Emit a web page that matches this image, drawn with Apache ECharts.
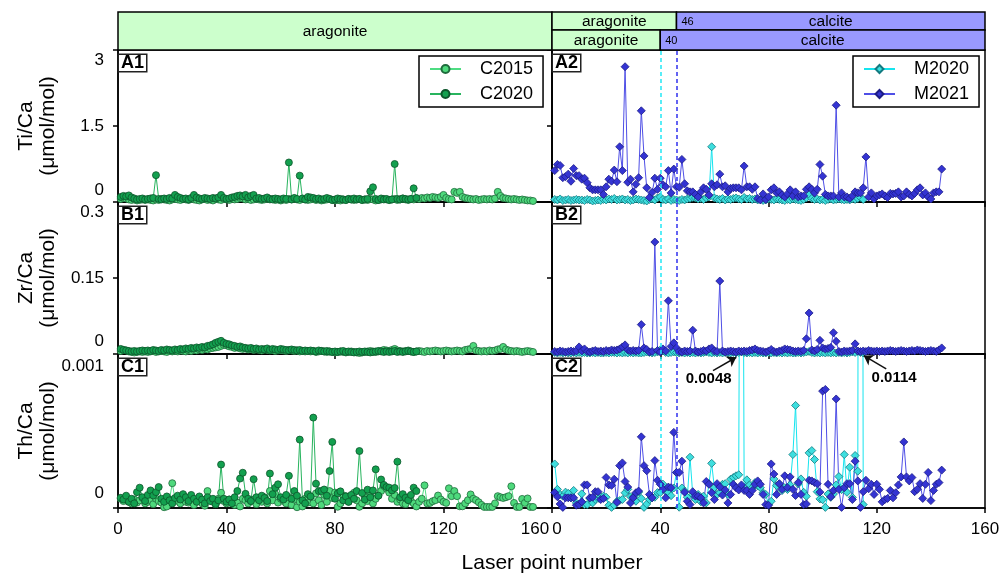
<!DOCTYPE html>
<html>
<head>
<meta charset="utf-8">
<script src="https://cdn.jsdelivr.net/npm/echarts@6/dist/echarts.min.js"></script>
<style>
  html, body { margin: 0; padding: 0; background: #fff; }
  #chart { width: 1001px; height: 576px; }
</style>
</head>
<body>
<div id="chart"></div>
<script>
// Element/Ca ratios (µmol/mol) along laser transects; point number = array position + 1.

// ---- Ti/Ca ----
const tiCa_C2015 = [
  .06,.08,.07,.05,.04,.05,.03,.04,.05,.04, .05,.04,.03,.05,.04,.06,.05,.04,.03,.05,
  .06,.05,.04,.06,.05,.04,.07,.05,.04,.03, .05,.06,.04,.05,.03,.06,.05,.04,.06,.05,
  .04,.07,.05,.06,.08,.07,.05,.06,.04,.05, .06,.05,.04,.05,.07,.05,.06,.04,.05,.03,
  .05,.04,.06,.05,.07,.05,.04,.06,.05,.04, .05,.06,.04,.05,.03,.04,.05,.06,.04,.03,
  .04,.03,.05,.04,.06,.05,.04,.05,.06,.04, .05,.04,.06,.05,.03,.04,.05,.06,.05,.04,
  .05,.06,.04,.05,.07,.05,.04,.06,.05,.07, .06,.08,.07,.09,.08,.10,.09,.08,.10,.14,
  .08,.06,.05,.20,.18,.20,.10,.08,.07,.06, .05,.06,.04,.05,.06,.05,.06,.05,.07,.20,
  .12,.08,.07,.06,.05,.06,.05,.04,.05,.04, .03,.03,.02
];
const tiCa_C2020 = [
  .10,.12,.11,.13,.09,.07,.05,.06,.07,.05, .06,.07,.08,.53,.06,.05,.07,.06,.08,.07,
  .14,.10,.08,.06,.07,.05,.08,.14,.09,.07, .06,.08,.07,.06,.08,.07,.09,.14,.08,.06,
  .07,.09,.10,.12,.13,.11,.14,.09,.12,.14, .07,.08,.06,.07,.09,.06,.05,.07,.06,.05,
  .07,.06,.78,.05,.08,.06,.52,.07,.05,.10, .09,.08,.06,.07,.05,.06,.08,.06,.04,.05,
  .07,.06,.05,.04,.06,.05,.07,.05,.06,.04, .05,.06,.21,.29,.06,.04,.07,.05,.06,.04,
  .05,.75,.06,.05,.07,.06,.05,.06,.27,.08
];
const tiCa_M2020 = [
  .05,.04,.06,.03,.04,.05,.03,.04,.05,.04, .04,.03,.05,.04,.02,.03,.04,.03,.05,.04,
  .06,.05,.07,.04,.05,.06,.04,.05,.03,.04, .06,.05,.04,.03,.02,.05,.06,.04,.08,.10,
  .05,.04,.06,.03,.05,.04,.03,.05,.04,.06, .07,.09,.08,.06,.07,.05,.08,.10,1.09,.08,
  .06,.05,.07,.04,.06,.05,.07,.08,.06,.05, .09,.06,.07,.05,.06,.04,.05,.03,.04,.06,
  .05,.04,.06,.05,.04,.03,.05,.04,.06,.05, .04,.03,.05,.08,.14,.07,.05,.06,.04,.05,
  .03,.05,.06,.04,.05,.06,.05,.04,.05,.04, .06,.05,.07,.09,.05
];
const tiCa_M2021 = [
  .62,.74,.72,.48,.50,.55,.41,.66,.52,.52, .45,.47,.38,.28,.24,.24,.24,.24,.15,.30,
  .45,.41,.63,.40,1.09,.62,2.67,.39,.45,.20, .35,.48,1.80,.91,.28,.09,.19,.47,.25,.47,
  .34,.30,.62,.18,.65,.30,.29,.84,.36,.22, .20,.20,.15,.10,.20,.28,.25,.14,.36,.30,
  .34,.55,.30,.32,.20,.27,.28,.28,.28,.24, .71,.30,.30,.25,.30,.07,.04,.16,.05,.10,
  .24,.28,.18,.20,.14,.10,.16,.24,.12,.20, .10,.12,.12,.25,.30,.25,.18,.25,.74,.51,
  .15,.12,.12,.12,1.91,.10,.18,.10,.10,.07, .12,.20,.18,.18,.28,.89,.10,.18,.06,.12,
  .14,.16,.12,.09,.17,.16,.17,.20,.10,.12, .20,.15,.12,.17,.24,.28,.14,.18,.10,.06,
  .18,.20,.20,.65
];

// ---- Zr/Ca ----
const zrCa_C2015 = [
  .006,.008,.007,.005,.004,.003,.004,.005,.004,.005, .004,.005,.006,.004,.005,.006,.005,.004,.006,.005,
  .006,.005,.007,.006,.005,.007,.006,.008,.007,.009, .008,.010,.009,.011,.012,.013,.014,.016,.018,.017,
  .015,.014,.012,.013,.011,.010,.011,.009,.010,.008, .009,.008,.007,.009,.008,.007,.008,.006,.007,.008,
  .007,.006,.008,.007,.006,.007,.005,.006,.005,.006, .005,.006,.004,.005,.006,.005,.004,.005,.004,.003,
  .004,.005,.004,.003,.004,.005,.004,.003,.002,.003, .004,.005,.006,.005,.004,.005,.006,.008,.007,.006,
  .008,.010,.007,.006,.005,.006,.007,.005,.004,.005, .006,.005,.004,.006,.005,.006,.007,.006,.005,.006,
  .007,.006,.005,.006,.007,.006,.005,.008,.009,.010, .016,.007,.006,.005,.006,.005,.007,.006,.007,.009,
  .010,.014,.009,.007,.006,.005,.006,.005,.004,.005, .006,.005,.004
];
const zrCa_C2020 = [
  .010,.008,.007,.006,.005,.006,.005,.006,.007,.006, .007,.006,.008,.007,.006,.008,.007,.009,.008,.007,
  .009,.008,.010,.009,.011,.010,.012,.011,.013,.012, .014,.013,.016,.017,.019,.022,.024,.026,.022,.020,
  .019,.017,.016,.014,.015,.013,.012,.011,.012,.010, .011,.009,.010,.009,.011,.008,.010,.009,.008,.010,
  .009,.008,.007,.009,.008,.007,.008,.006,.007,.006, .007,.006,.005,.007,.006,.005,.006,.005,.004,.005,
  .004,.005,.006,.004,.005,.004,.003,.004,.005,.004, .005,.004,.003,.004,.005,.006,.005,.004,.005,.004,
  .005,.006,.004,.005,.004,.005,.006,.005,.004,.005
];
const zrCa_M2020 = [
  .003,.002,.003,.002,.003,.002,.002,.003,.002,.003, .002,.003,.002,.002,.003,.002,.003,.002,.002,.003,
  .002,.003,.003,.002,.003,.002,.003,.002,.003,.002, .003,.002,.002,.003,.004,.003,.002,.003,.004,.008,
  .006,.003,.002,.003,.004,.003,.002,.003,.002,.003, .002,.003,.002,.003,.002,.003,.004,.003,.002,.003,
  .002,.003,.002,.003,.002,.002,.003,.002,.003,.004, .003,.002,.003,.002,.003,.002,.003,.002,.002,.003,
  .002,.003,.002,.003,.002,.003,.002,.003,.002,.002, .003,.002,.003,.004,.005,.003,.002,.003,.002,.003,
  .002,.003,.002,.003,.002,.003,.002,.003,.002,.003, .004,.003,.005,.003,.002
];
const zrCa_M2021 = [
  .005,.004,.006,.005,.004,.005,.006,.005,.006,.014, .006,.010,.005,.004,.006,.007,.005,.006,.005,.007,
  .006,.008,.007,.008,.010,.014,.018,.008,.006,.007, .006,.007,.058,.012,.009,.004,.005,.221,.007,.004,
  .010,.006,.105,.015,.022,.012,.005,.004,.006,.005, .006,.047,.006,.004,.005,.007,.006,.010,.012,.006,
  .005,.144,.006,.004,.005,.006,.005,.004,.006,.005, .006,.005,.007,.008,.010,.007,.006,.005,.004,.006,
  .009,.005,.004,.006,.007,.010,.009,.008,.006,.005, .006,.005,.007,.030,.081,.008,.006,.009,.027,.012,
  .010,.011,.013,.042,.025,.005,.004,.006,.005,.006, .007,.020,.006,.005,.006,.005,.007,.006,.005,.006,
  .005,.006,.005,.006,.007,.006,.005,.006,.007,.006, .005,.006,.007,.006,.008,.007,.006,.005,.006,.007,
  .006,.005,.008,.012
];

// ---- Th/Ca ----
const thCa_C2015 = [
  6e-5,4.5e-5,7e-5,4e-5,3e-5,5.5e-5,3.5e-5,5e-5,6.5e-5,3e-5,
  4e-5,5e-5,2.5e-5,6e-5,4.5e-5,3.5e-5,5e-6,1e-5,5.5e-5,1.61e-4,
  6e-5,4.5e-5,3e-5,5.5e-5,4e-5,3.5e-5,5e-5,2e-5,4.5e-5,6e-5,
  3e-5,1.5e-5,1.1e-4,5e-5,4e-5,2.5e-5,6e-5,9.9e-5,4.5e-5,3e-5,
  5.5e-5,4e-5,2e-5,3.5e-5,1e-5,6e-5,5e-5,3e-5,4.5e-5,5.5e-5,
  2.5e-5,6.5e-5,4e-5,7e-5,3e-5,1.1e-4,5e-5,9e-5,3.5e-5,6e-5,
  4.5e-5,3e-5,7e-5,2e-5,5.5e-5,5e-6,4e-5,1e-5,6e-5,3.5e-5,
  7.5e-5,3e-5,9.5e-5,5e-5,2e-5,8.5e-5,4e-5,1.1e-4,6.5e-5,1e-4,
  8e-6,3e-5,8e-5,7.7e-5,4e-5,6e-5,9.9e-5,5e-5,8e-6,3e-5,
  7e-5,4.5e-5,9e-5,3e-5,6e-5,8e-5,1.1e-4,1.43e-4,1.25e-4,1e-4,
  6e-5,8.5e-5,4e-5,5.5e-5,3e-5,2.5e-5,7e-5,4.5e-5,3e-5,1e-5,
  4e-5,6e-5,1.47e-4,3e-5,3.3e-5,4.4e-5,5.1e-5,8.1e-5,5.5e-5,4e-5,
  3.3e-5,1.28e-4,7.7e-5,1.1e-4,7.7e-5,1.1e-5,1.1e-5,3e-5,5.1e-5,8.8e-5,
  6e-5,5.1e-5,3.7e-5,2e-5,7e-6,7e-6,7e-6,7e-6,3e-5,7.7e-5,
  7e-5,6.5e-5,7e-5,7.7e-5,1.41e-4,3.3e-5,7e-6,7e-6,5.9e-5,3.3e-5,
  6.2e-5,7e-6,7e-6
];
const thCa_C2020 = [
  6.6e-5,5.5e-5,8e-5,4e-5,6e-5,3e-5,1.03e-4,1.32e-4,7e-5,4.5e-5,
  8.5e-5,1.14e-4,8.1e-5,1.03e-4,1.36e-4,6e-5,4e-5,7.5e-5,5e-5,3e-5,
  6.5e-5,8e-5,5.5e-5,9e-5,7e-5,4.5e-5,8.5e-5,6e-5,4e-5,7.5e-5,
  5.5e-5,3e-5,7e-5,4.5e-5,6e-5,2.5e-5,5e-5,2.82e-4,6e-5,4e-5,
  5.5e-5,3e-5,7e-5,1.1e-4,1.91e-4,2.29e-4,9.2e-5,6e-5,4.5e-5,1.87e-4,
  7e-5,5e-5,8e-5,6.5e-5,4.5e-5,2.24e-4,9e-5,1.32e-4,1.54e-4,7e-5,
  5.5e-5,8.5e-5,2.09e-4,6e-5,1.1e-4,8e-5,4.44e-4,5e-5,3e-5,9e-5,
  7.5e-5,5.87e-4,1.58e-4,1.1e-4,1.1e-4,1.2e-4,8e-5,2.4e-4,4.29e-4,6e-5,
  9.5e-5,1.08e-4,5e-5,7.5e-5,4e-5,8.5e-5,6e-5,1.1e-4,3.7e-4,9.7e-5,
  5.5e-5,1.19e-4,7e-5,1.14e-4,2.51e-4,8e-5,1.85e-4,1.5e-4,1.36e-4,1.32e-4,
  1.14e-4,1.3e-4,3.01e-4,7e-5,9e-5,6.6e-5,5.1e-5,8.5e-5,1.32e-4,1.1e-4
];
const thCa_M2020 = [
  2.86e-4,1.21e-4,8.8e-5,7.7e-5,1.03e-4,9.5e-5,6.6e-5,1.14e-4,3.3e-5,2.6e-5,
  9.2e-5,2.2e-5,2.2e-5,6.2e-5,3.3e-5,5.5e-5,6.2e-5,7.3e-5,7.7e-5,7e-5,
  1.8e-5,4e-6,1.8e-5,4.4e-5,4.8e-5,5.5e-5,9.9e-5,1.21e-4,7.3e-5,7.3e-5,
  4.4e-5,1.03e-4,6.2e-5,4e-6,2.6e-5,5.5e-5,6.6e-5,7e-5,1e-4,1e-4,
  1.55e-4,1.2e-4,1e-4,8e-5,1.3e-4,2.3e-4,5e-6,1.3e-4,1.1e-4,7e-5,
  3.3e-4,8.8e-5,5.5e-5,8.8e-5,4e-5,7.7e-5,3.3e-5,1.58e-4,2.9e-4,1.32e-4,
  8.8e-5,9.9e-5,1.54e-4,1.58e-4,8.8e-5,1.87e-4,1.98e-4,2.09e-4,2.16e-4,4.8e-3,
  1.32e-4,1.83e-4,1.5e-4,1.32e-4,1.65e-4,1.43e-4,1.32e-4,9.9e-5,8.8e-5,2.2e-5,
  4.4e-5,1.89e-4,1.45e-4,1.56e-4,1.13e-4,1.32e-4,1.2e-4,1.5e-4,3.47e-4,6.66e-4,
  1.56e-4,1.89e-4,1.02e-4,7.6e-5,3.58e-4,3.73e-4,3.15e-4,1.06e-4,5.9e-5,5.4e-5,
  4e-6,9.1e-5,6.9e-5,9.1e-5,1.5e-4,2.04e-4,1.19e-4,3.47e-4,1.02e-4,2.65e-4,
  6.9e-5,3.41e-4,2.39e-4,1.14e-2,2.2e-5
];
const thCa_M2021 = [
  1e-4,7.3e-5,2.6e-5,4e-6,6.6e-5,6.6e-5,6.6e-5,6.6e-5,1.8e-5,2.2e-5,
  4e-5,1.5e-4,1.5e-4,6.6e-5,7e-5,1.06e-4,1.06e-4,5.5e-5,6.2e-5,1.98e-4,
  1.5e-4,1.47e-4,1.87e-4,3.7e-5,2.75e-4,2.93e-4,1.72e-4,1.36e-4,3.3e-5,6.6e-5,
  9.9e-5,1.1e-4,4.62e-4,2.75e-4,2.42e-4,8.8e-5,6.6e-5,3.08e-4,1.8e-4,1.54e-4,
  1.21e-4,6.6e-5,1.36e-4,1.32e-4,4.91e-4,2.31e-4,2.31e-4,3.04e-4,1.03e-4,4.4e-5,
  2.2e-5,1.06e-4,7.7e-5,7.7e-5,6.6e-5,3.3e-5,1.72e-4,1.54e-4,9.9e-5,5.5e-5,
  1.58e-4,1.36e-4,8.4e-5,1.17e-4,3.3e-5,8.8e-5,1.54e-4,1.32e-4,1.17e-4,1.5e-4,
  1.14e-4,1.14e-4,8.8e-5,1.14e-4,1.54e-4,1.76e-4,1.54e-4,8.8e-5,2.2e-5,1.8e-5,
  2.86e-4,2.2e-4,8.8e-5,1.58e-4,1.21e-4,2.09e-4,1.32e-4,2.02e-4,1.21e-4,8.1e-5,
  1.65e-4,8.8e-5,2.2e-5,2.6e-5,1.8e-4,1.76e-4,1.65e-4,1.58e-4,1.03e-4,7.59e-4,
  7.7e-4,1.54e-4,7.3e-5,1.14e-4,7.08e-4,1.21e-4,4e-6,1.32e-4,1.58e-4,1.58e-4,
  5.5e-5,3.04e-4,1.76e-4,4e-6,1.06e-4,1.8e-4,1.25e-4,1.54e-4,8.8e-5,1.54e-4,
  1.21e-4,4e-5,5.5e-5,6.2e-5,1.14e-4,6.6e-5,9.9e-5,1.5e-4,2.02e-4,4.29e-4,
  2.02e-4,1.76e-4,1.98e-4,1.06e-4,1.21e-4,1.58e-4,6.2e-5,1.54e-4,2.31e-4,4.8e-5,
  1.14e-4,1.54e-4,1.65e-4,2.46e-4
];

// Aragonite -> calcite transition (laser point number) in the M samples
const transition_M2020 = 40;
const transition_M2021 = 46;

// Y-axis tick values per row
const ticks_Ti = [0, 1.5, 3];
const ticks_Zr = [0, 0.15, 0.3];
const ticks_Th = [0, 0.001];

// ---------------------------------------------------------------
const FONT = '"Liberation Sans", Arial, Helvetica, sans-serif';
const COLS = [{ left: 118, width: 434 }, { left: 552, width: 433 }];
const ROWS = [{ top: 50, height: 152 }, { top: 202, height: 152 }, { top: 354, height: 154 }];

const rowDefs = [
  { title: 'Ti/Ca\n(μmol/mol)', ticks: ticks_Ti, lo: 24, hi: 20, tag: 'A' },
  { title: 'Zr/Ca\n(μmol/mol)', ticks: ticks_Zr, lo: 26, hi: 20, tag: 'B' },
  { title: 'Th/Ca\n(μmol/mol)', ticks: ticks_Th, lo: 30, hi: 24, tag: 'C' }
];

const sampleData = {
  C2015: [tiCa_C2015, zrCa_C2015, thCa_C2015],
  C2020: [tiCa_C2020, zrCa_C2020, thCa_C2020],
  M2020: [tiCa_M2020, zrCa_M2020, thCa_M2020],
  M2021: [tiCa_M2021, zrCa_M2021, thCa_M2021]
};
const sampleStyle = {
  C2015: { line: '#4edc82', fill: '#4ed97c', border: '#1f6b3c', symbol: 'circle', size: 7 },
  C2020: { line: '#28b45e', fill: '#13a04f', border: '#0c552b', symbol: 'circle', size: 7 },
  M2020: { line: '#16e4ee', fill: '#3edede', border: '#137a80', symbol: 'diamond', size: 8 },
  M2021: { line: '#4f4fe6', fill: '#3434d2', border: '#1c1c86', symbol: 'diamond', size: 8 }
};
const columnSamples = [['C2015', 'C2020'], ['M2020', 'M2021']];

const MINERAL_FILL = { aragonite: '#ccffcc', calcite: '#9999ff' };

const grids = [], xAxes = [], yAxes = [], series = [], graphics = [];

function points(arr) { return arr.map((v, i) => [i + 1, v]); }

rowDefs.forEach((row, r) => {
  const max = row.ticks[row.ticks.length - 1];
  [0, 1].forEach(c => {
    const g = grids.length;
    grids.push({
      left: COLS[c].left, width: COLS[c].width, top: ROWS[r].top, height: ROWS[r].height,
      show: true, borderColor: '#000', borderWidth: 1.5, backgroundColor: 'transparent',
      containLabel: false, outerBoundsMode: 'none'
    });
    const isBottom = r === rowDefs.length - 1;
    xAxes.push({
      gridIndex: g, type: 'value', min: 0, max: 160, interval: 40,
      axisLine: { show: true, lineStyle: { color: '#000', width: 1.5 } },
      axisTick: { show: true, inside: false, length: 5, lineStyle: { color: '#000', width: 1.5 } },
      splitLine: { show: false },
      axisLabel: {
        show: isBottom, margin: 13, fontSize: 17, fontFamily: FONT, color: '#000',
        formatter: v => {
          if (c === 0 && v === 160) return '{end|' + v + '}';
          if (c === 1 && v === 0) return '{start|' + v + '}';
          return String(v);
        },
        rich: {
          end: { fontSize: 17, fontFamily: FONT, color: '#000', padding: [0, 34, 0, 0] },
          start: { fontSize: 17, fontFamily: FONT, color: '#000', padding: [0, 0, 0, 10] }
        }
      }
    });
    yAxes.push({
      gridIndex: g, type: 'value', min: 0, max: max,
      axisLine: { show: true, lineStyle: { color: '#000', width: 1.5 } },
      axisTick: { show: true, inside: false, length: 5, customValues: row.ticks, lineStyle: { color: '#000', width: 1.5 } },
      splitLine: { show: false },
      axisLabel: {
        show: c === 0, customValues: row.ticks, margin: 14, fontSize: 17, fontFamily: FONT, color: '#000',
        formatter: v => {
          if (v === 0) return '{lo|0}';
          if (v === max) return '{hi|' + v + '}';
          return String(v);
        },
        rich: {
          lo: { fontSize: 17, fontFamily: FONT, color: '#000', padding: [0, 0, row.lo, 0] },
          hi: { fontSize: 17, fontFamily: FONT, color: '#000', padding: [row.hi, 0, 0, 0] }
        }
      }
    });

    columnSamples[c].forEach(name => {
      const st = sampleStyle[name];
      const s = {
        type: 'line', name, xAxisIndex: g, yAxisIndex: g,
        data: points(sampleData[name][r]),
        symbol: st.symbol, symbolSize: st.size, showAllSymbol: true,
        lineStyle: { color: st.line, width: 1 },
        itemStyle: { color: st.fill, borderColor: st.border, borderWidth: 0.8 },
        emphasis: { disabled: true }, silent: true, clip: true, z: 2
      };
      if (c === 1) {
        const bx = name === 'M2020' ? transition_M2020 : transition_M2021;
        s.markLine = {
          silent: true, symbol: ['none', 'none'], animation: false,
          label: { show: false },
          lineStyle: { color: st.line, width: 1.5, type: [4, 3] },
          data: [{ xAxis: bx, lineStyle: { color: name === 'M2020' ? '#22e8f5' : '#3030ee', width: 1.5, type: [4, 3] } }]
        };
      }
      series.push(s);
    });

    // panel tag
    graphics.push({
      type: 'text', x: COLS[c].left + 1, y: ROWS[r].top + 5, z: 50,
      style: {
        text: row.tag + (c + 1), font: 'bold 18px ' + FONT, fill: '#000',
        backgroundColor: '#fff', borderColor: '#222', borderWidth: 1.5,
        padding: [0, 2, 0, 2], lineHeight: 16, align: 'left', verticalAlign: 'top'
      }
    });
  });

  // y-axis title
  graphics.push({
    type: 'text', x: 37, y: ROWS[r].top + ROWS[r].height / 2, rotation: Math.PI / 2,
    style: { text: row.title, font: '21px ' + FONT, fill: '#000', align: 'center', verticalAlign: 'middle', lineHeight: 22 }
  });
});

// Callouts for Th/Ca points of M2020 that run beyond the axis top
const thSeries = series.find(s => s.name === 'M2020' && s.yAxisIndex === 5);
const thMax = ticks_Th[ticks_Th.length - 1];
const calloutPlacement = [
  { text: [-12.1, 8.38e-4], tail: [-10.5, 8.92e-4], tip: [-1.9, 9.79e-4] },
  { text: [12.4, 8.44e-4], tail: [9.5, 9.03e-4], tip: [1.2, 9.89e-4] }
];
const offScale = points(thCa_M2020).filter(p => p[1] > thMax);
offScale.forEach((p, k) => {
  const pl = calloutPlacement[k];
  thSeries.markLine.data.push([
    { coord: [p[0] + pl.tail[0], pl.tail[1]], symbol: 'none', lineStyle: { color: '#111', width: 1.5, type: 'solid' } },
    { coord: [p[0] + pl.tip[0], pl.tip[1]], symbol: 'arrow', symbolSize: 9 }
  ]);
});
thSeries.markPoint = {
  silent: true, animation: false, symbol: 'circle', symbolSize: 1,
  itemStyle: { color: 'rgba(0,0,0,0)' },
  label: { show: true, position: 'inside', color: '#000', fontFamily: FONT, fontWeight: 'bold', fontSize: 15, formatter: p => p.name },
  data: offScale.map((p, k) => ({ name: String(p[1]), coord: [p[0] + calloutPlacement[k].text[0], calloutPlacement[k].text[1]] }))
};

// Mineralogy strips above the panels
const bandRows = [
  { left: COLS[0].left, width: COLS[0].width, top: 12, height: 38,
    bands: [{ from: 0, to: 160, phase: 'aragonite' }] },
  { left: COLS[1].left, width: COLS[1].width, top: 12, height: 18,
    bands: [{ from: 0, to: transition_M2021, phase: 'aragonite' }, { from: transition_M2021, to: 160, phase: 'calcite' }] },
  { left: COLS[1].left, width: COLS[1].width, top: 30, height: 20,
    bands: [{ from: 0, to: transition_M2020, phase: 'aragonite' }, { from: transition_M2020, to: 160, phase: 'calcite' }] }
];
bandRows.forEach(br => {
  const g = grids.length;
  grids.push({ left: br.left, width: br.width, top: br.top, height: br.height, show: false, containLabel: false, outerBoundsMode: 'none' });
  xAxes.push({ gridIndex: g, type: 'value', min: 0, max: 160, show: false });
  yAxes.push({ gridIndex: g, type: 'value', min: 0, max: 1, show: false });
  series.push({
    type: 'custom', xAxisIndex: g, yAxisIndex: g, silent: true, z: 1,
    data: br.bands.map(b => [b.from, b.to]),
    renderItem(params, api) {
      const b = br.bands[params.dataIndex];
      const p0 = api.coord([b.from, 1]);
      const p1 = api.coord([b.to, 0]);
      const w = p1[0] - p0[0], h = p1[1] - p0[1];
      const children = [
        { type: 'rect', shape: { x: p0[0], y: p0[1], width: w, height: h },
          style: { fill: MINERAL_FILL[b.phase], stroke: '#000', lineWidth: 1.5 } },
        { type: 'text', x: p0[0] + w / 2, y: p0[1] + h / 2 + 1,
          style: { text: b.phase, font: '15.5px ' + FONT, fill: '#000', align: 'center', verticalAlign: 'middle' } }
      ];
      if (b.from > 0) {
        children.push({ type: 'text', x: p0[0] + 5, y: p0[1] + h / 2 + 1,
          style: { text: String(b.from), font: '11px ' + FONT, fill: '#000', align: 'left', verticalAlign: 'middle' } });
      }
      return { type: 'group', children };
    }
  });
});

// x-axis title
graphics.push({
  type: 'text', x: 552, y: 563,
  style: { text: 'Laser point number', font: '21px ' + FONT, fill: '#000', align: 'center', verticalAlign: 'middle' }
});

const legendBase = {
  orient: 'vertical', selectedMode: false, top: 56,
  backgroundColor: '#fff', borderColor: '#000', borderWidth: 1.5, borderRadius: 0,
  padding: [3, 10, 3, 10], itemWidth: 31, itemHeight: 10, itemGap: 5,
  textStyle: { fontFamily: FONT, fontSize: 18, color: '#000', padding: [0, 0, 0, 14], lineHeight: 20 }
};

const chart = echarts.init(document.getElementById('chart'), null, { renderer: 'canvas' });
chart.setOption({
  animation: false,
  backgroundColor: '#fff',
  textStyle: { fontFamily: FONT },
  grid: grids,
  xAxis: xAxes,
  yAxis: yAxes,
  legend: [
    Object.assign({}, legendBase, { left: 419, data: columnSamples[0] }),
    Object.assign({}, legendBase, { left: 853, data: columnSamples[1] })
  ],
  graphic: graphics,
  series
});
</script>
</body>
</html>
